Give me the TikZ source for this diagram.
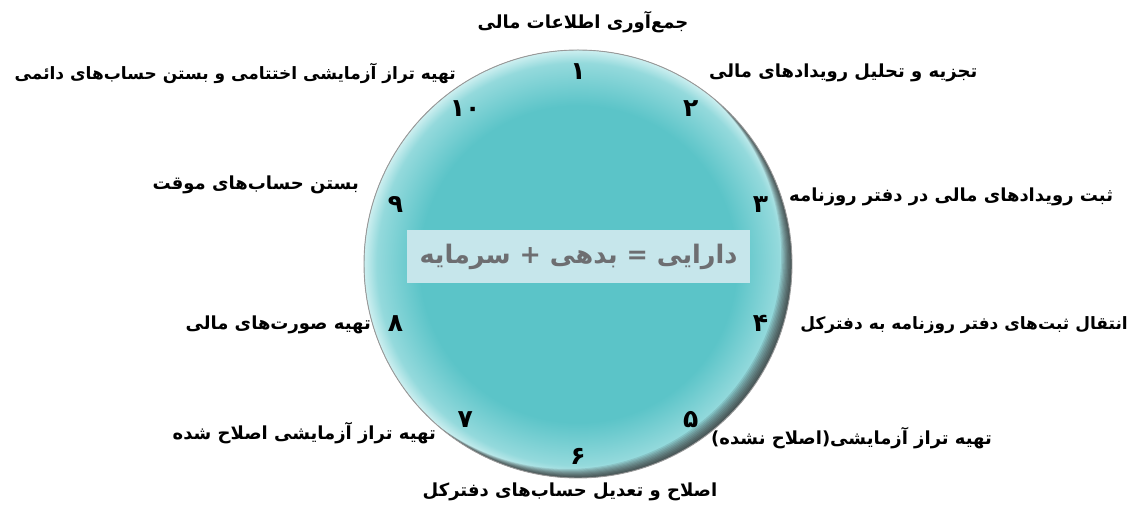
\documentclass[tikz,border=0pt]{standalone}
\usepackage{fontspec}
\usetikzlibrary{calc}
\TeXXeTstate=1
\newfontfamily\fa[Script=Arabic]{DejaVu Sans}
\definecolor{dialmid}{HTML}{5BC4C8}
\definecolor{dialrim}{HTML}{CDEFF0}
\definecolor{boxfill}{HTML}{C6E6EB}
\definecolor{boxtext}{HTML}{6D6E71}
\pgfdeclareradialshading{dial}{\pgfpoint{0bp}{0bp}}{color(0bp)=(dialmid); color(18.5bp)=(dialmid); color(23.5bp)=(dialmid!50!dialrim); color(25bp)=(dialrim); color(50bp)=(dialrim)}

\begin{document}
\begin{tikzpicture}[x=1pt, y=1pt,
  steptext/.style={font=\fa\bfseries\fontsize{18}{21}\selectfont, inner sep=1pt},
  longtext/.style={steptext, font=\fa\bfseries\fontsize{17}{20}\selectfont},
  stepnum/.style={font=\fa\bfseries\fontsize{25}{27}\selectfont, inner sep=0pt}]
  \useasboundingbox (0,0) rectangle (1131,505);
  \coordinate (C) at (578,241);
  % the dial
  \shade[shading=dial] (C) circle (214);
  \begin{scope}
    \clip (C) circle (214);
    \foreach \k in {1,...,9}
      \fill[black, opacity=0.1, even odd rule] (C) circle (214) ($(C)+(-1.2*\k,1.0*\k)$) circle (214);
  \end{scope}
  \draw[gray!80, line width=0.9pt] (C) circle (214);
  % the equation
  \node[fill=boxfill, minimum width=343, minimum height=53, inner sep=0pt,
    text=boxtext, font=\fa\bfseries\fontsize{25.5}{28}\selectfont] (eq) at (578.5,248.5)
    {\beginR دارایی = بدهی + سرمایه\endR};
  % the numbers
  \foreach \i/\d in {1/۱,2/۲,3/۳,4/۴,5/۵,6/۶,7/۷,8/۸,9/۹,10/۱۰}
    \node[stepnum] (n\i) at ($(C)+({90-36*(\i-1)}:192)$) {\d};
  % the steps
  \node[steptext] (s1) at (583,483) {\beginR جمع‌آوری اطلاعات مالی\endR};
  \node[steptext, anchor=west] (s2) at (708,432) {\beginR تجزیه و تحلیل رویدادهای مالی\endR};
  \node[steptext, anchor=west] (s3) at (788,308) {\beginR ثبت رویدادهای مالی در دفتر روزنامه\endR};
  \node[longtext, anchor=east] (s4) at (1129,180) {\beginR انتقال ثبت‌های دفتر روزنامه به دفترکل\endR};
  \node[steptext, anchor=west] (s5) at (710,67) {\beginR تهیه تراز آزمایشی(اصلاح نشده)\endR};
  \node[steptext] (s6) at (570,13) {\beginR اصلاح و تعدیل حساب‌های دفترکل\endR};
  \node[steptext, anchor=east] (s7) at (437,72) {\beginR تهیه تراز آزمایشی اصلاح شده\endR};
  \node[steptext, anchor=east] (s8) at (372,180) {\beginR تهیه صورت‌های مالی\endR};
  \node[steptext, anchor=east] (s9) at (360,320) {\beginR بستن حساب‌های موقت\endR};
  \node[longtext, anchor=east] (s10) at (457,432) {\beginR تهیه تراز آزمایشی اختتامی و بستن حساب‌های دائمی\endR};
\end{tikzpicture}
\end{document}
